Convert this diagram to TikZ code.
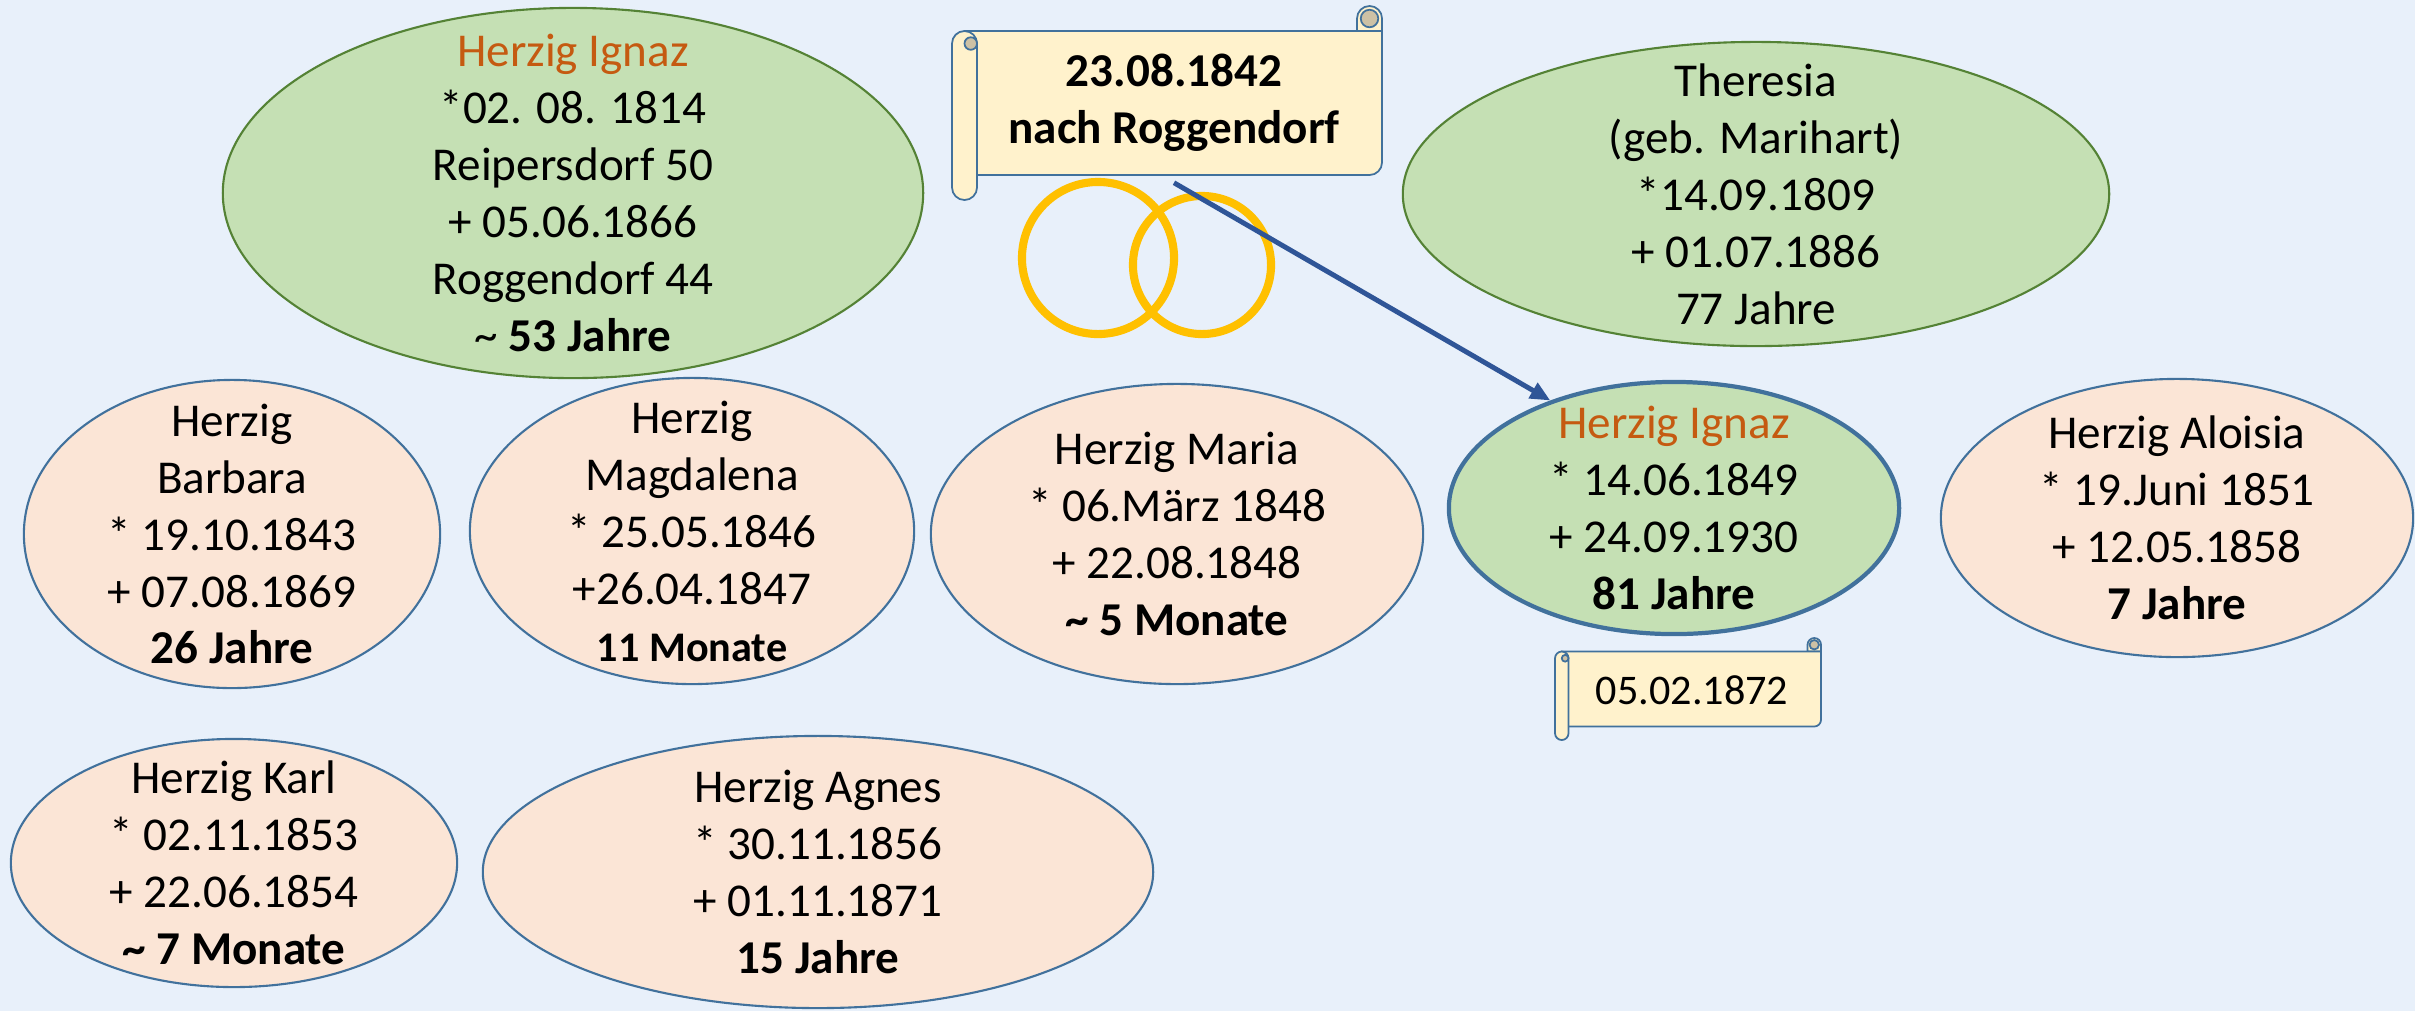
\documentclass[tikz,border=0pt]{standalone}
\usepackage{fontspec}
\setmainfont{Carlito}
\usetikzlibrary{shapes.geometric,arrows.meta}
\definecolor{bgblue}{HTML}{E8F0FA}
\definecolor{parentfill}{HTML}{C5E0B4}
\definecolor{parentline}{HTML}{548235}
\definecolor{kidfill}{HTML}{FBE5D6}
\definecolor{kidline}{HTML}{41719C}
\definecolor{nameorange}{HTML}{C55A11}
\definecolor{paper}{HTML}{FFF2CC}
\definecolor{rollshade}{HTML}{CDC1A5}
\definecolor{ringgold}{HTML}{FFC000}
\definecolor{arrowblue}{HTML}{2F5597}
\tikzset{scrollline/.style={draw=kidline, fill=paper, line width=0.5pt}}
% scroll: x0, y0, x1, y1, roll width (all in picture units)
\newcommand{\scrollpaper}[5]{%
	\pgfmathsetmacro\scrR{#5/2}
	\pgfmathsetlengthmacro\scrRad{#5*0.005cm}
	\pgfmathsetlengthmacro\scrCurl{#5*0.0025cm}
	\filldraw[scrollline] ({#3-#5},{#2+#5}) -- ({#3-#5},{#2+\scrR}) arc[start angle=180, end angle=0, radius=\scrRad] -- ({#3},{#2+#5}) -- cycle;
	\filldraw[scrollline, fill=rollshade] ({#3-\scrR},{#2+\scrR}) circle[radius=0.7*\scrRad];
	\filldraw[scrollline] ({#1+\scrR},{#2+#5}) -- ({#3},{#2+#5}) -- ({#3},{#4-#5-\scrR}) arc[start angle=0, end angle=-90, radius=\scrRad] -- ({#1+\scrR},{#4-#5}) -- cycle;
	\filldraw[scrollline, rounded corners=\scrRad] ({#1},{#2+#5}) rectangle ({#1+#5},{#4});
	\filldraw[scrollline, fill=rollshade] ({#1+0.75*#5},{#2+#5+\scrR}) circle[radius=\scrCurl];
}

\begin{document}
\begin{tikzpicture}[x=0.01cm, y=-0.01cm,
		person/.style={ellipse, inner sep=0pt, line width=0.6pt},
		parent/.style={person, draw=parentline, fill=parentfill},
		kid/.style={person, draw=kidline, fill=kidfill},
		who/.style={align=center, inner sep=0pt, font=\fontsize{13.4}{16.2}\selectfont},
		small/.style={font=\fontsize{12}{14.5}\selectfont}]
	\fill[bgblue] (0,0) rectangle (2415,1011);
	\useasboundingbox (0,0) rectangle (2415,1011);
	
	\node[parent, minimum width=7cm, minimum height=3.7cm, label={[who]center:{\textcolor{nameorange}{Herzig Ignaz}\\ *02. 08. 1814\\ Reipersdorf 50\\ + 05.06.1866\\ Roggendorf 44\\ \textasciitilde{} \textbf{53 Jahre}}}] (ignaz) at (573,193) {};
	\node[parent, minimum width=7.06cm, minimum height=3.04cm, label={[who]center:{Theresia\\ (geb. Marihart)\\ *14.09.1809\\ + 01.07.1886\\ 77 Jahre}}] (theresia) at (1756,194) {};
	
	\scrollpaper{952}{6}{1382}{200}{25}
	\node[who, minimum width=4.05cm, minimum height=1.45cm, font=\fontsize{13.4}{16.2}\selectfont\bfseries] (wedding) at (1174,102.5)
		{23.08.1842\\ nach Roggendorf};
	
	\draw[ringgold, line width=2.3pt] (1098,258) circle[radius=0.76cm];
	\draw[ringgold, line width=2.3pt] (1202,265) circle[radius=0.69cm];
	
	\node[kid, minimum width=4.16cm, minimum height=3.08cm, label={[who]center:{Herzig\\ Barbara\\ * 19.10.1843\\ + 07.08.1869\\ \textbf{26 Jahre}}}] (barbara) at (232,534) {};
	\node[kid, minimum width=4.44cm, minimum height=3.06cm, label={[who]center:{Herzig\\ Magdalena\\ * 25.05.1846\\ +26.04.1847\\ {\fontsize{12}{14.5}\selectfont\bfseries 11 Monate}}}] (magdalena) at (692,531) {};
	\node[kid, minimum width=4.92cm, minimum height=3cm, label={[who]center:{Herzig Maria\\ * 06.März 1848\\ + 22.08.1848\\ \textbf{\textasciitilde{} 5 Monate}}}] (maria) at (1177,534) {};
	\node[parent, draw=kidline, line width=1.2pt, minimum width=4.5cm, minimum height=2.52cm, label={[who]center:{\textcolor{nameorange}{Herzig Ignaz}\\ * 14.06.1849\\ + 24.09.1930\\ \textbf{81 Jahre}}}] (ignazjr) at (1674,508) {};
	\node[kid, minimum width=4.72cm, minimum height=2.78cm, label={[who]center:{Herzig Aloisia\\ * 19.Juni 1851\\ + 12.05.1858\\ \textbf{7 Jahre}}}] (aloisia) at (2177,518) {};
	\node[kid, minimum width=4.46cm, minimum height=2.48cm, label={[who]center:{Herzig Karl\\ * 02.11.1853\\ + 22.06.1854\\ \textbf{\textasciitilde{} 7 Monate}}}] (karl) at (234,863) {};
	\node[kid, minimum width=6.7cm, minimum height=2.72cm, label={[who]center:{Herzig Agnes\\ * 30.11.1856\\ + 01.11.1871\\ \textbf{15 Jahre}}}] (agnes) at (818,872) {};
	
	\scrollpaper{1555}{638}{1821}{740}{13.5}
	\node[inner sep=0pt, small] (heirat) at (1692,690) {05.02.1872};
	
	\draw[arrowblue, line width=1.4pt, -{Triangle[length=0.2cm, width=0.17cm]}]
		([yshift=-0.07cm]wedding.south) -- (ignazjr.139);
\end{tikzpicture}
\end{document}
